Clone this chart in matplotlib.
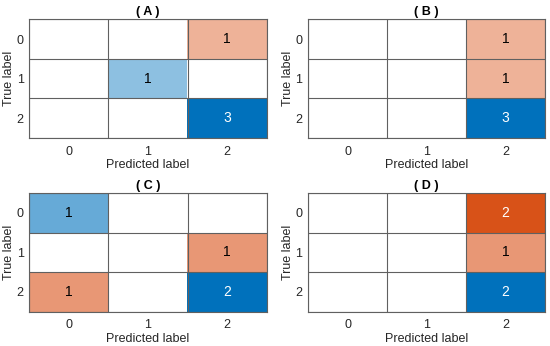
import numpy as np
import matplotlib
matplotlib.use('Agg')
import matplotlib.pyplot as plt

plt.rcParams['font.family'] = ['Liberation Sans', 'DejaVu Sans']

classes = ['0', '1', '2']
titles = ['( A )', '( B )', '( C )', '( D )']
cm_a = [[0, 0, 1], [0, 1, 0], [0, 0, 3]]
cm_b = [[0, 0, 1], [0, 0, 1], [0, 0, 3]]
cm_c = [[1, 0, 0], [0, 0, 1], [1, 0, 2]]
cm_d = [[0, 0, 2], [0, 0, 1], [0, 0, 2]]
matrices = [cm_a, cm_b, cm_c, cm_d]

# diagonal / off-diagonal base colours, shaded towards white by value
DIAG = np.array([0.0, 0.447, 0.741])
OFF = np.array([0.85, 0.325, 0.098])
GAMMA = 0.74

positions = [
    [0.053, 0.601, 0.432, 0.343],
    [0.560, 0.601, 0.431, 0.343],
    [0.053, 0.099, 0.432, 0.343],
    [0.560, 0.099, 0.431, 0.343],
]

fig = plt.figure(figsize=(5.5, 3.46), dpi=100)

for cm, title, pos in zip(matrices, titles, positions):
    cm = np.array(cm, dtype=float)
    n = cm.shape[0]
    vmax = cm.max()
    ax = fig.add_axes(pos)
    rgb = np.ones((n, n, 3))
    for i in range(n):
        for j in range(n):
            v = cm[i, j]
            if v <= 0:
                continue
            a = (v / vmax) ** GAMMA
            base = DIAG if i == j else OFF
            rgb[i, j] = 1 - a * (1 - base)
            txt_col = 'white' if a > 0.8 else 'black'
            ax.text(j, i, f'{int(v)}', ha='center', va='center',
                    fontsize=10, color=txt_col)
    ax.imshow(rgb, aspect='auto', interpolation='nearest')

    ax.set_xticks(range(n))
    ax.set_yticks(range(n))
    ax.set_xticklabels(classes)
    ax.set_yticklabels(classes)
    ax.set_xticks(np.arange(-0.5, n, 1), minor=True)
    ax.set_yticks(np.arange(-0.5, n, 1), minor=True)
    ax.grid(which='minor', color='#606060', linewidth=0.8)
    ax.tick_params(which='both', length=0, labelsize=9, colors='#262626', pad=4)
    ax.tick_params(axis='x', pad=5.5)
    for s in ax.spines.values():
        s.set_color('#606060')
        s.set_linewidth(0.8)
    ax.set_xlabel('Predicted label', fontsize=9, color='#262626', labelpad=1)
    ax.set_ylabel('True label', fontsize=9, color='#262626', labelpad=1)
    ax.set_title(title, fontsize=9, fontweight='bold', pad=3)

fig.savefig('out.png', dpi=100)
